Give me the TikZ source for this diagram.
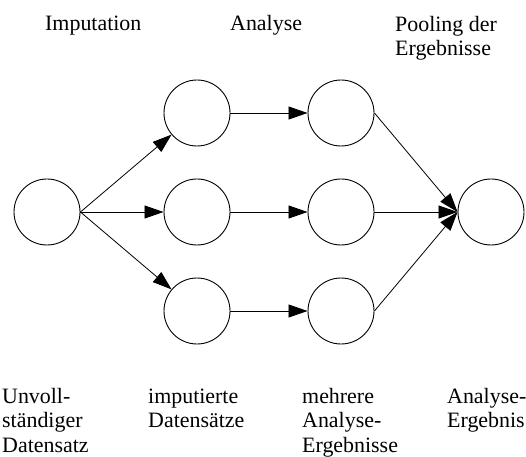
\documentclass[tikz,border=0pt]{standalone}
\usepackage{fontspec}
\setmainfont{Liberation Serif}
\usetikzlibrary{arrows.meta}

\tikzset{
    kreis/.style={draw, circle, minimum size=66bp, inner sep=0pt, line width=0.9bp},
    pfeil/.style={-{Triangle[length=19bp, width=13bp]}, line width=0.8bp},
    beschriftung/.style={anchor=base west, align=left, inner sep=0pt,
        font=\fontsize{22}{24.5}\selectfont},
}

\begin{document}
\begin{tikzpicture}[x=1bp, y=-1bp]
        \useasboundingbox (0, 0) rectangle (526, 457);

        % Kreise
        \node[kreis] (ds) at (47, 212) {};
        \foreach \name/\y in {1/113, 2/212, 3/311} {
            \node[kreis] (imp\name) at (197, \y) {};
            \node[kreis] (ana\name) at (341, \y) {};
            \draw[pfeil] (imp\name) -- (ana\name);
        }
        \node[kreis] (erg) at (491, 212) {};

        % Pfeile
        \draw[pfeil] (ds.east) -- (imp1);
        \draw[pfeil] (ds.east) -- (imp2);
        \draw[pfeil] (ds.east) -- (imp3);
        \draw[pfeil] (ana1.east) -- (erg.west);
        \draw[pfeil] (ana2.east) -- (erg.west);
        \draw[pfeil] (ana3.east) -- (erg.west);

        % Beschriftungen oben (Grundlinie der letzten Zeile)
        \node[beschriftung] (tImp) at (45, 31) {Imputation};
        \node[beschriftung] (tAna) at (230, 31) {Analyse};
        \node[beschriftung] (tPool) at (395, 55.5) {Pooling der\\Ergebnisse};

        % Beschriftungen unten
        \node[beschriftung] (tDs) at (2, 452) {Unvoll-\\ständiger\\Datensatz};
        \node[beschriftung] (tImpD) at (148, 427.5) {imputierte\\Datensätze};
        \node[beschriftung] (tMehr) at (302, 452) {mehrere\\Analyse-\\Ergebnisse};
        \node[beschriftung] (tErg) at (447, 427.5) {Analyse-\\Ergebnis};
\end{tikzpicture}
\end{document}
